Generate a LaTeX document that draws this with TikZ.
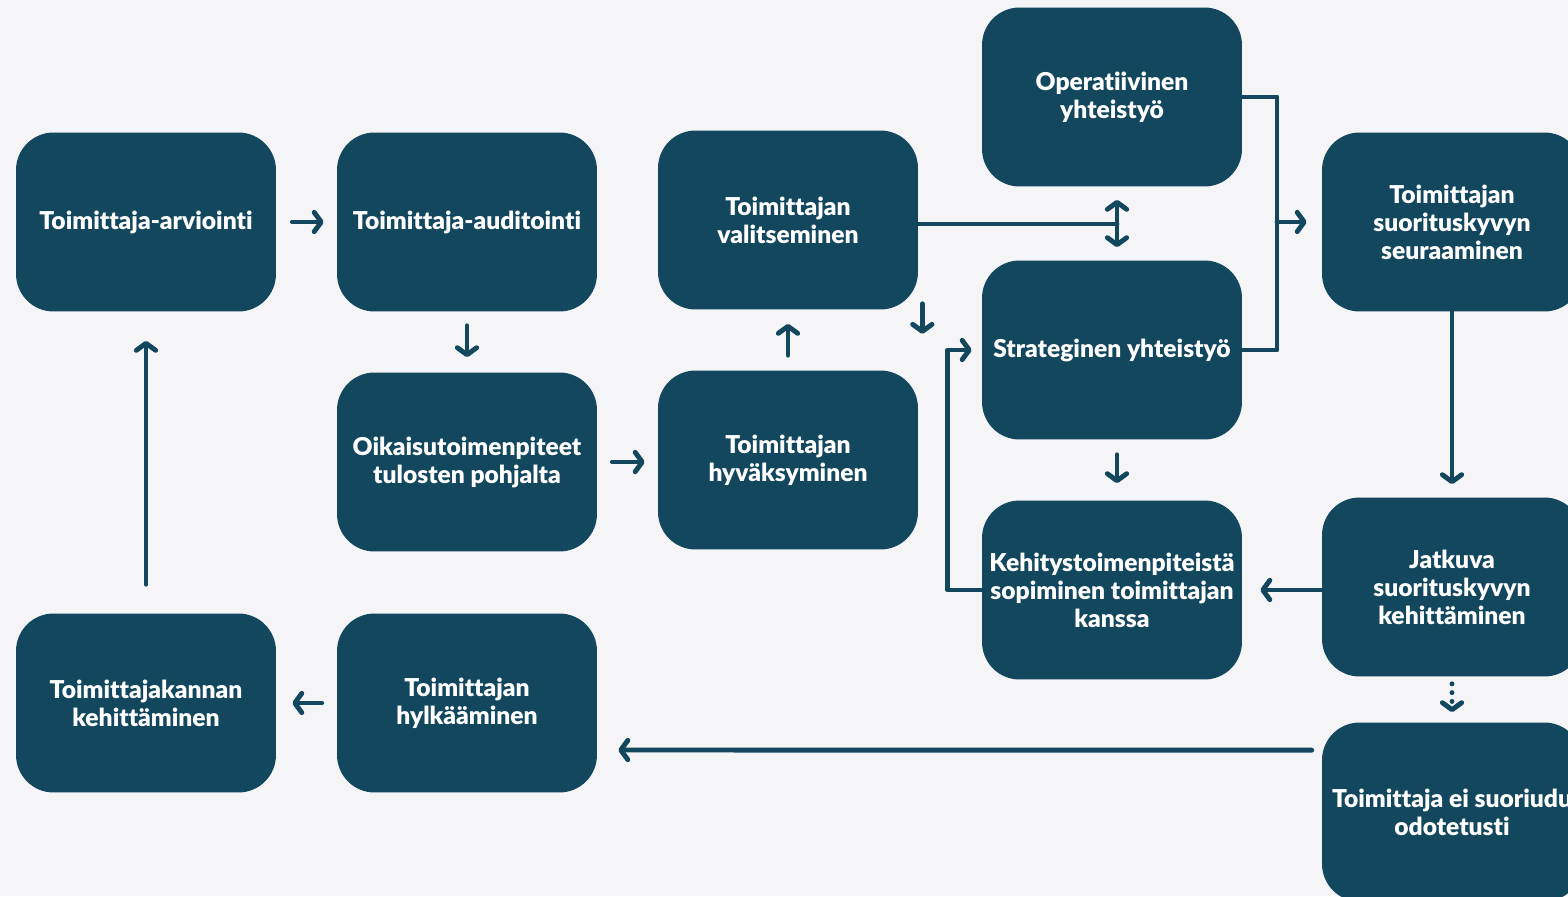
\documentclass[tikz,border=0pt]{standalone}
\usepackage{fontspec}
\setmainfont{Lato}[Ligatures=NoCommon, BoldFont={Lato Black}]
\usetikzlibrary{calc,arrows.meta}

\definecolor{boxblue}{HTML}{12475E}
\definecolor{pagegray}{HTML}{F5F5F8}

\begin{document}
\begin{tikzpicture}[
  x=0.02cm, y=-0.02cm,
  stage/.style={rounded corners=0.75cm, fill=boxblue, text=white, align=center,
    font=\bfseries\fontsize{14}{15.9}\selectfont,
    minimum width=5.2cm, minimum height=3.58cm, inner sep=2pt},
  link/.style={line width=2.8pt, draw=boxblue, line cap=round, line join=round},
  flow/.style={link, -{Straight Barb[round,length=4pt,width=11pt]}},
  twoway/.style={link, {Straight Barb[round,length=4pt,width=11pt]}-{Straight Barb[round,length=4pt,width=11pt]}},
  dotflow/.style={flow, dash pattern=on 0pt off 5pt}
]

\clip (0,0) rectangle (1568,896);
\fill[pagegray] (0,0) rectangle (1568,896);

% stages
\node[stage] (arv) at (146,222) {Toimittaja-arviointi};
\node[stage] (aud) at (467,222) {Toimittaja-auditointi};
\node[stage] (val) at (788,220) {Toimittajan\\valitseminen};
\node[stage] (ope) at (1112,97) {Operatiivinen\\yhteistyö};
\node[stage] (str) at (1112,350) {Strateginen yhteistyö};
\node[stage] (seu) at (1452,222) {Toimittajan\\suorituskyvyn\\seuraaminen};
\node[stage] (oik) at (467,462) {Oikaisutoimenpiteet\\tulosten pohjalta};
\node[stage] (hyv) at (788,460) {Toimittajan\\hyväksyminen};
\node[stage] (keh) at (1112,590) {Kehitystoimenpiteistä\\sopiminen toimittajan\\kanssa};
\node[stage] (jat) at (1452,587) {Jatkuva\\suorituskyvyn\\kehittäminen};
\node[stage] (kan) at (146,703) {Toimittajakannan\\kehittäminen};
\node[stage] (hyl) at (467,703) {Toimittajan\\hylkääminen};
\node[stage] (ei) at (1452,812) {Toimittaja ei suoriudu\\odotetusti};

\coordinate (mid) at (1117,224);
\coordinate (bus) at (1277,222);

% short steps
\draw[flow] ($(arv.east)+(16,0)$) -- ($(aud.west)+(-13,0)$);
\draw[flow] ($(aud.south)+(0,14)$) -- ($(oik.north)+(0,-15)$);
\draw[flow] ($(oik.east)+(15,0)$) -- ($(hyv.west |- oik.east)+(-13,0)$);
\draw[flow] ($(hyv.north)+(0,-15)$) -- ($(val.south)+(0,14)$);
\draw[flow] ($(val.south east)+(4,-6)$) -- ($(val.south east)+(4,24)$);
\draw[flow] ($(hyl.west)+(-15,0)$) -- ($(kan.east)+(16,0)$);
\draw[flow] ($(kan.north)+(0,-29)$) -- ($(arv.south)+(0,29)$);

% cooperation
\draw[link] (val.east |- mid) -- (mid);
\draw[twoway] ($(ope.south)+(5,13)$) -- ($(str.north)+(5,-13)$);
\draw[link] (ope.east) -| (bus) |- (str.east);
\draw[flow] (bus) -- ($(seu.west)+(-15,0)$);
\draw[flow] ($(str.south)+(5,15)$) -- ($(keh.north)+(5,-17)$);
\draw[flow] (keh.west) -- ++(-34,0) |- ($(str.west)+(-10,0)$);

% follow-up
\draw[flow] (seu.south) -- ($(jat.north)+(0,-13)$);
\draw[flow] (jat.west |- keh.east) -- ($(keh.east)+(18,0)$);
\draw[dotflow] ($(jat.south)+(0,7)$) -- ($(ei.north)+(0,-10)$);
\draw[flow] ($(ei.north west)+(-10,28)$) -- ($(hyl.east)+(21,47)$);
\end{tikzpicture}
\end{document}
